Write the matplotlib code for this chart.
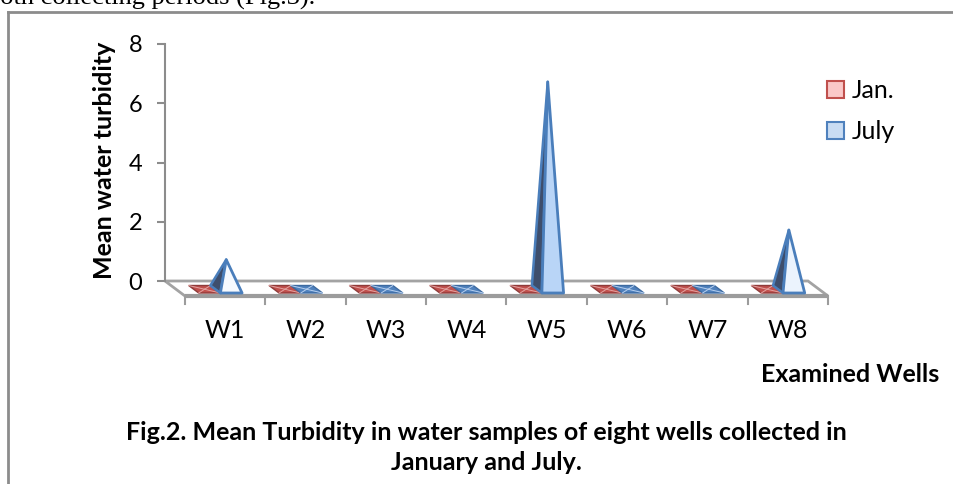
import numpy as np
import matplotlib
matplotlib.use("Agg")
import matplotlib.pyplot as plt
from matplotlib.patches import Polygon, Patch
from matplotlib.lines import Line2D
from matplotlib.colors import to_rgb

# ── data ─────────────────────────────────────
wells = ["W1", "W2", "W3", "W4", "W5", "W6", "W7", "W8"]
jan = [0, 0, 0, 0, 0, 0, 0, 0]
july = [1.0, 0, 0, 0, 7.0, 0, 0, 2.0]
series_names = ["Jan.", "July"]
y_ticks = [0, 2, 4, 6, 8]

W, H = 954, 484
plt.rcParams["font.family"] = ["Lato", "DejaVu Sans"]

fig = plt.figure(figsize=(W / 100, H / 100), dpi=100)
ax = fig.add_axes([165 / W, (H - 281) / H, 643 / W, 237 / H])
ax.set_xlim(0, len(wells))
ax.set_ylim(0, 8)

# oblique "3D" depth offset, back wall -> front edge (data units)
px_x = 643 / len(wells)
px_y = 237 / 8
DX = 20 / px_x
DY = -15 / px_y


def proj(x, v, z):
    return (x + z * DX, v + z * DY)


# ── floor ────────────────────────────────────
n = len(wells)
floor = [proj(0, 0, 0), proj(n, 0, 0), proj(n, 0, 1), proj(0, 0, 1)]
xs = np.linspace(0, n + DX, 1200)
b = 0.74 + 0.26 * (0.5 + 0.5 * np.cos(2 * np.pi * (xs - 0.05))) ** 3
img = np.repeat(b[None, :, None], 3, axis=2)
im = ax.imshow(img, extent=(0, n + DX, DY, 0), aspect="auto", zorder=1,
               interpolation="bilinear")
floor_poly = Polygon(floor, closed=True, facecolor="none", edgecolor="#a3a3a3",
                     lw=2, zorder=2, clip_on=False)
ax.add_patch(floor_poly)
im.set_clip_path(floor_poly)
ax.plot([DX, n + DX], [DY, DY], color="#9c9c9c", lw=3, zorder=2,
        clip_on=False, solid_capstyle="butt")
for i in range(n + 1):
    ax.plot([i + DX, i + DX], [DY, DY - 8 / px_y], color="#9c9c9c", lw=1.5,
            zorder=2, clip_on=False)
ax.set_xlim(0, n)
ax.set_ylim(0, 8)

# ── pyramids ─────────────────────────────────
styles = [
    dict(flat="#c0504d", edge="#8e3b3a", line="#e3a3a1", light="#fac8c8"),
    dict(flat="#4f81bd", edge="#3d6aa0", line="#b7cfee", light="#b9d5f7"),
]
zb, zf, zc = 0.3, 0.8, 0.55
wbar = 0.27
pair_c = 0.49
vmax = max(july + jan)

for i in range(n):
    for s, vals in enumerate([jan, july]):
        st = styles[s]
        x0 = i + pair_c - wbar if s == 0 else i + pair_c
        x1 = x0 + wbar
        FL, FR = proj(x0, 0, zf), proj(x1, 0, zf)
        BL, BR = proj(x0, 0, zb), proj(x1, 0, zb)
        v = vals[i]
        if v == 0:
            ax.add_patch(Polygon([FL, FR, BR, BL], closed=True,
                                 facecolor=st["flat"], edgecolor=st["edge"],
                                 lw=1, zorder=3, clip_on=False))
            c = proj((x0 + x1) / 2, 0, zc)
            for p in (FL, FR, BR, BL):
                ax.plot([p[0], c[0]], [p[1], c[1]], color=st["line"], lw=0.7,
                        zorder=3, clip_on=False)
        else:
            apex = proj((x0 + x1) / 2, v, zc)
            f = v / vmax
            face = tuple((1 - f) * 1.0 + f * c for c in to_rgb(st["light"]))
            ax.add_patch(Polygon([BL, FL, apex], closed=True, facecolor="#3e4e6c",
                                 edgecolor="#4a7ebb", lw=1.8, zorder=4,
                                 clip_on=False, joinstyle="round"))
            ax.add_patch(Polygon([FL, FR, apex], closed=True, facecolor=face,
                                 edgecolor="#4a7ebb", lw=2, zorder=4,
                                 clip_on=False, joinstyle="round"))

# ── axes decoration ──────────────────────────
for side in ["top", "right", "bottom"]:
    ax.spines[side].set_visible(False)
ax.spines["left"].set_color("#8c8c8c")
ax.spines["left"].set_linewidth(1.5)
ax.set_xticks([])
ax.set_yticks(y_ticks)
ax.set_yticklabels([str(t) for t in y_ticks])
ax.tick_params(axis="y", length=5.8, width=1.5, color="#8c8c8c", pad=10.5,
               labelsize=17, labelcolor="black")
ax.patch.set_alpha(0)

ax.text(-60 / 643, (281 - 160.5) / 237, "Mean water turbidity",
        transform=ax.transAxes, rotation=90, ha="center", va="center",
        fontsize=18, fontweight="bold")

for i, name in enumerate(wells):
    ax.text(i + 0.5 + DX, -49 / px_y, name, ha="center", va="center",
            fontsize=18, clip_on=False)

handles = [Patch(facecolor=styles[0]["light"], edgecolor="#c0504d", lw=1.5),
           Patch(facecolor="#c9dcf3", edgecolor="#4f81bd", lw=1.5)]
fig.legend(handles, series_names, loc="upper left",
           bbox_to_anchor=(815 / W, 1 - 67 / H), frameon=False, fontsize=18,
           borderpad=0, handlelength=0.65, handleheight=0.65,
           handletextpad=0.3, labelspacing=0.7)

fig.text(850 / W, 1 - 375 / H, "Examined Wells", ha="center", va="center",
         fontsize=18, fontweight="bold")
fig.text(486 / W, 1 - 432 / H,
         "Fig.2. Mean Turbidity in water samples of eight wells collected in",
         ha="center", va="center", fontsize=18, fontweight="bold")
fig.text(486 / W, 1 - 462 / H, "January and July.", ha="center", va="center",
         fontsize=18, fontweight="bold")

# text of the page above the chart, cut off at the top
fig.text(315 / W, 1 - 5 / H, "both collecting periods (Fig.3).", ha="right",
         va="baseline", fontsize=19, family="Liberation Serif")

# chart area border
fig.add_artist(Line2D([8 / W, 8 / W], [0, 1 - 12 / H], color="#8c8c8c", lw=2))
fig.add_artist(Line2D([8 / W, 1], [1 - 12 / H, 1 - 12 / H], color="#8c8c8c", lw=2))

fig.savefig("out.png", dpi=100)
